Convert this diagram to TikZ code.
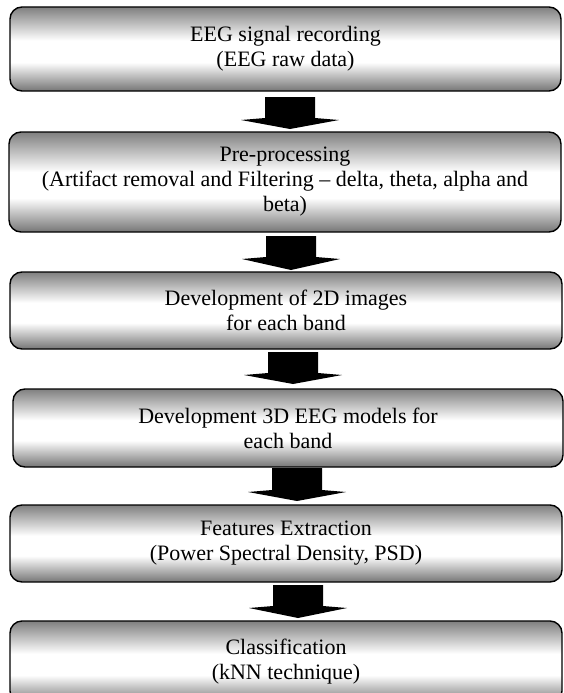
\documentclass[tikz,border=0pt]{standalone}
\usepackage{fontspec}
\setmainfont{Liberation Serif}
\definecolor{boxtop}{gray}{0.50}
\definecolor{boxbot}{gray}{0.46}
\pgfdeclareverticalshading{boxshade}{100bp}{color(0bp)=(boxbot); color(25bp)=(boxbot); color(42bp)=(white); color(55bp)=(white); color(75bp)=(boxtop); color(100bp)=(boxtop)}
\newcommand\blockarrow[4]{\fill[arrowfill] ({#1-25},#2) -- ({#1+25},#2) -- ({#1+25},{#3-2}) -- ({#1+49},#3) -- (#1,#4) -- ({#1-49},#3) -- ({#1-25},{#3-2}) -- cycle;}
\begin{document}
\begin{tikzpicture}[x=1pt,y=-1pt,
  stage/.style={draw=black, line width=1.4pt, rounded corners=12pt, shading=boxshade,
    align=center, inner sep=0pt, font=\fontsize{22}{25}\selectfont},
  arrowfill/.style={fill=black}]
\useasboundingbox (0,0) rectangle (563,693);
\node[stage, minimum width=551pt, minimum height=84pt] (b1) at (285.5,49) {EEG signal recording\\(EEG raw data)};
\node[stage, minimum width=552pt, minimum height=100pt] (b2) at (285,182) {Pre-processing\\(Artifact removal and Filtering -- delta, theta, alpha and\\beta)};
\node[stage, minimum width=552pt, minimum height=77pt] (b3) at (286,310.5) {Development of 2D images\\for each band};
\node[stage, minimum width=550pt, minimum height=78pt] (b4) at (288,428) {Development 3D EEG models for\\each band};
\node[stage, minimum width=552pt, minimum height=77pt] (b5) at (286,543.5) {Features Extraction\\(Power Spectral Density, PSD)};
\node[stage, minimum width=552pt, minimum height=82pt] (b6) at (286,662) {Classification\\(kNN technique)};
\blockarrow{290}{97}{120}{129}
\blockarrow{291}{236}{259}{270}
\blockarrow{293}{352}{375}{384}
\blockarrow{297}{468}{492}{501}
\blockarrow{298}{585}{608}{618}
\end{tikzpicture}
\end{document}
